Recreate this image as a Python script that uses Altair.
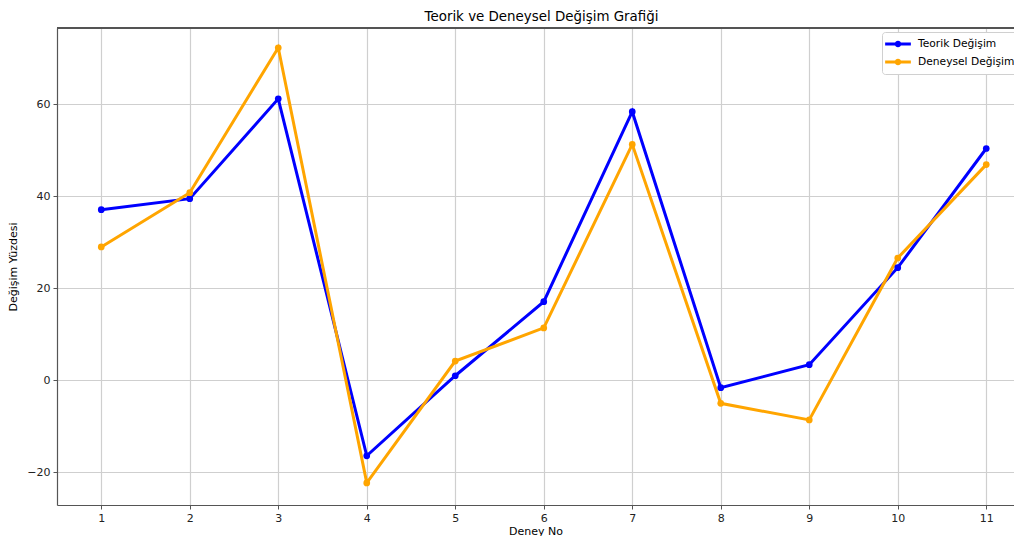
import altair as alt
import pandas as pd

deney_no = [1, 2, 3, 4, 5, 6, 7, 8, 9, 10, 11]
teorik = [37.1, 39.5, 61.2, -16.4, 1.0, 17.1, 58.4, -1.6, 3.4, 24.5, 50.4]
deneysel = [29.0, 40.8, 72.3, -22.3, 4.2, 11.4, 51.3, -5.0, -8.6, 26.6, 46.9]
series_names = ["Teorik Değişim", "Deneysel Değişim"]
series_colors = ["#0000ff", "#ffa500"]
y_ticks = [-20, 0, 20, 40, 60]

rows = []
for name, vals in zip(series_names, [teorik, deneysel]):
    for x, v in zip(deney_no, vals):
        rows.append({"Deney No": x, "Değer": v, "Seri": name})
df = pd.DataFrame(rows)

W, H = 957, 477
FONT = "DejaVu Sans"

legend_symbol = "M-2.1,0L2.1,0M-0.3,0A0.3,0.3 0 1,0 0.3,0A0.3,0.3 0 1,0 -0.3,0"

color = alt.Color(
    "Seri:N",
    scale=alt.Scale(domain=series_names, range=series_colors),
    legend=alt.Legend(
        title=None,
        orient="none",
        legendX=825,
        legendY=4,
        symbolType=legend_symbol,
        symbolSize=150,
        symbolStrokeWidth=3,
        symbolOffset=4,
        labelOffset=12,
        labelFontSize=10.7,
        labelFont=FONT,
        labelColor="#000000",
        rowPadding=2,
        strokeColor="#d0d0d0",
        fillColor="#ffffff",
        padding=4,
        cornerRadius=3,
    ),
)

base = alt.Chart(df).encode(
    x=alt.X(
        "Deney No:Q",
        scale=alt.Scale(domain=[0.5, 0.5 + W / 88.5], nice=False, zero=False),
        axis=alt.Axis(
            values=deney_no,
            title="Deney No",
            format="d",
            titleBaseline="alphabetic",
            titleY=29,
        ),
    ),
    y=alt.Y(
        "Değer:Q",
        scale=alt.Scale(domain=[-27.1, 76.6], nice=False, zero=False),
        axis=alt.Axis(values=y_ticks, title="Değişim Yüzdesi", titlePadding=8),
    ),
    color=color,
    order=alt.Order("Deney No:Q"),
)

lines = base.mark_line(strokeWidth=3, point=alt.OverlayMarkDef(filled=True, size=45, opacity=1))

top_rule = alt.Chart(df).mark_rule(color="#555555", strokeWidth=1.2).encode(
    x=alt.value(0), x2=alt.value(W), y=alt.value(0)
)

chart = (
    alt.layer(lines, top_rule)
    .properties(
        width=W,
        height=H,
        autosize=alt.AutoSizeParams(type="none"),
        padding={"left": 49, "top": 20, "right": 0, "bottom": 31},
        title=alt.TitleParams(
            "Teorik ve Deneysel Değişim Grafiği",
            fontSize=13.4,
            fontWeight="normal",
            font=FONT,
            color="#000000",
            anchor="middle",
            dx=6,
            offset=4,
        ),
    )
    .configure_view(stroke=None)
    .configure_axis(
        labelFont=FONT,
        titleFont=FONT,
        labelFontSize=11,
        titleFontSize=11,
        titleFontWeight="normal",
        labelColor="#222222",
        titleColor="#000000",
        domainColor="#555555",
        domainWidth=1.2,
        tickColor="#555555",
        tickSize=4,
        labelPadding=3,
        gridColor="#cfcfcf",
        gridWidth=1.2,
        grid=True,
    )
)

chart.save("out.html", embed_options={"renderer": "svg", "actions": False})
